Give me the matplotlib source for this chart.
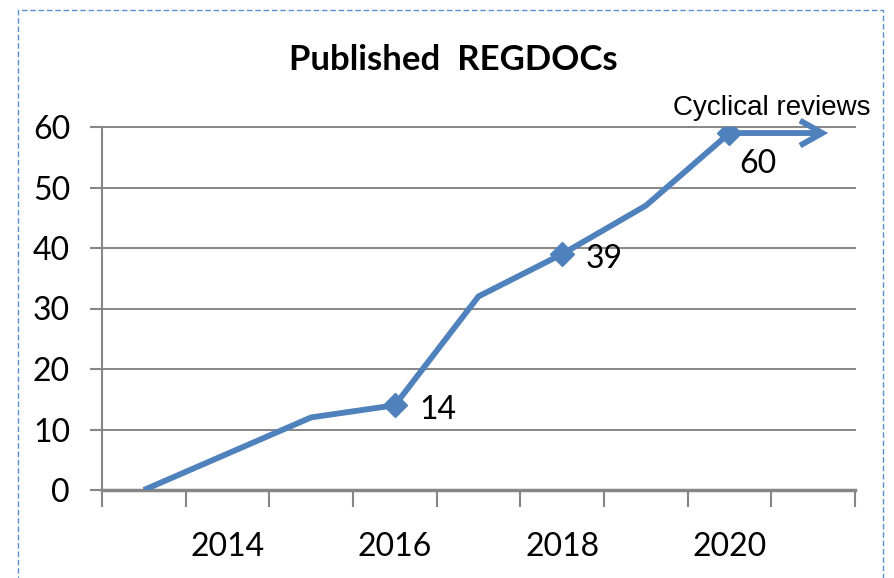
import matplotlib
matplotlib.use('Agg')
import matplotlib.pyplot as plt
from matplotlib.patches import Rectangle

# chart data
years = [2013, 2014, 2015, 2016, 2017, 2018, 2019, 2020, 2021]
published = [0, 6, 12, 14, 32, 39, 47, 59]
marked_years = [2016, 2018, 2020]
marked_labels = ['14', '39', '60']
label_offsets = [(43, -5), (42, -5), (28, -31)]  # pixels from the marker
tick_years = [2014, 2016, 2018, 2020]
y_ticks = [0, 10, 20, 30, 40, 50, 60]
title = 'Published  REGDOCs'
arrow_text = 'Cyclical reviews'

BLUE = '#4F81BD'
GREY = '#868686'
BODY = ['Lato', 'DejaVu Sans']
ARIAL = ['Liberation Sans', 'DejaVu Sans']

W, H = 895, 578
fig = plt.figure(figsize=(W / 100, H / 100), dpi=100)
ax = fig.add_axes([102 / W, 1 - 490 / H, (855 - 102) / W, (490 - 127) / H])

# main line
xs = [years.index(y) for y in years[:len(published)]]
ax.plot(xs, published, color=BLUE, lw=4.2, solid_joinstyle='round',
        solid_capstyle='butt', zorder=3)

# diamond markers + value labels
mx = [years.index(y) for y in marked_years]
my = [published[i] for i in mx]
ax.plot(mx, my, ls='none', marker='D', ms=12, color=BLUE, zorder=4)
for x, y, lab, off in zip(mx, my, marked_labels, label_offsets):
    ax.annotate(lab, (x, y), xytext=off, textcoords='offset pixels',
                ha='center', va='center', fontsize=23, family=BODY,
                annotation_clip=False)

# arrow for cyclical reviews
x_last = xs[-1]
y_last = published[-1]
ax.annotate('', xy=(x_last + 1.18, y_last), xytext=(x_last, y_last),
            arrowprops=dict(arrowstyle='->,head_length=0.8,head_width=0.45',
                            color=BLUE, lw=4.2, mutation_scale=20,
                            shrinkA=0, shrinkB=0, joinstyle='miter',
                            capstyle='butt'),
            annotation_clip=False, zorder=4)
ax.annotate(arrow_text, (x_last + 0.55, y_last), xytext=(-4, 25),
            textcoords='offset pixels', ha='center', va='center',
            fontsize=20, family=ARIAL, annotation_clip=False)

# axes
ax.set_xlim(-0.5, len(years) - 0.5)
ax.set_ylim(0, 60)
ax.set_xticks([years.index(y) for y in tick_years])
ax.set_xticklabels([str(y) for y in tick_years], family=BODY, fontsize=23)
ax.set_xticks([i - 0.5 for i in range(len(years) + 1)], minor=True)
ax.tick_params(axis='x', which='major', length=0, pad=30)
ax.tick_params(axis='x', which='minor', length=12, width=1.5, color=GREY,
               direction='out')
ax.set_yticks(y_ticks)
ax.set_yticklabels([str(v) for v in y_ticks], family=BODY, fontsize=23)
ax.tick_params(axis='y', length=9, width=1.5, color=GREY, pad=14)
ax.yaxis.grid(True, color=GREY, lw=1.4)
for gl in ax.get_ygridlines():
    gl.set_clip_on(False)
ax.set_axisbelow(True)
for s in ['top', 'right']:
    ax.spines[s].set_visible(False)
ax.spines['left'].set_color(GREY)
ax.spines['left'].set_linewidth(1.5)
ax.spines['bottom'].set_color(GREY)
ax.spines['bottom'].set_linewidth(2.5)

# title
fig.text(453 / W, 1 - 60 / H, title, ha='center', va='center',
         fontsize=25, fontweight='bold', family=BODY)

# dashed frame round the chart (bottom edge falls off the picture)
fig.patches.append(Rectangle((18 / W, -0.05), (883 - 18) / W, 1.05 - 10 / H,
                             transform=fig.transFigure, fill=False,
                             ec='#5B8FD0', lw=1, ls=(0, (4, 2))))

fig.savefig('out.png', dpi=100)
